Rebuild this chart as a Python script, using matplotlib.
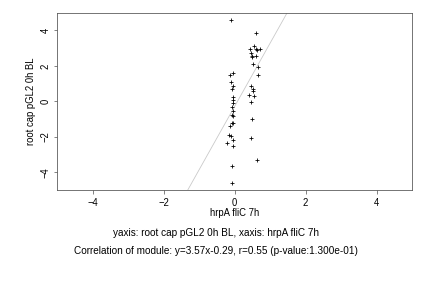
import numpy as np
import matplotlib
matplotlib.use('Agg')
import matplotlib.pyplot as plt

# points
x_vals = [-0.11, 0.60, 0.55, 0.43, 0.60, 0.63, 0.73, 0.45, 0.48, 0.50, 0.60, 0.51, 0.66, 0.65,
          -0.05, -0.13, -0.11, -0.05, -0.08, 0.45, 0.53, 0.51, 0.42, 0.55, 0.45, -0.05, -0.05,
          -0.05, -0.08, -0.05, -0.08, -0.05, 0.48, -0.05, -0.08, -0.13, -0.17, -0.11, -0.05,
          -0.22, -0.05, 0.45, 0.62, -0.08, -0.08]
y_vals = [4.56, 3.87, 3.10, 2.95, 2.93, 2.87, 2.93, 2.72, 2.54, 2.50, 2.54, 2.08, 1.93, 1.46,
          1.59, 1.46, 1.07, 0.85, 0.68, 0.85, 0.71, 0.58, 0.34, 0.28, -0.06, 0.24, 0.09,
          -0.08, -0.32, -0.55, -0.75, -0.81, -1.01, -1.20, -1.20, -1.41, -1.92, -1.97, -2.20,
          -2.37, -2.54, -2.07, -3.32, -3.66, -4.62]

slope = 3.57
intercept = -0.29
ticks = [-4, -2, 0, 2, 4]

plt.rcParams['font.family'] = ['Liberation Sans', 'DejaVu Sans']
fs = 9.5
fig = plt.figure(figsize=(6, 4), dpi=72)
ax = fig.add_axes([0.132, 0.340, 0.822, 0.616])

ax.scatter(x_vals, y_vals, marker='+', s=22, c='black', linewidths=0.8, zorder=3)

lx = np.array([-5.0, 5.0])
ax.plot(lx, slope * lx + intercept, color='#c8c8c8', lw=0.8, zorder=2)

ax.set_xlim(-5, 5)
ax.set_ylim(-5, 5)
ax.set_xticks(ticks)
ax.set_yticks(ticks)
ax.tick_params(labelsize=fs, length=3.5, width=0.6, color='#333333')
ax.tick_params(axis='x', pad=4)
ax.tick_params(axis='y', pad=3)
for lab in ax.get_yticklabels():
    lab.set_rotation(90)
    lab.set_va('center')
for s in ax.spines.values():
    s.set_color('#555555')
    s.set_linewidth(0.8)

ax.set_xlabel('hrpA fliC 7h', fontsize=fs, labelpad=0)
ax.set_ylabel('root cap pGL2 0h BL', fontsize=fs, labelpad=5)

fig.text(0.5, 0.192, 'yaxis: root cap pGL2 0h BL, xaxis: hrpA fliC 7h',
         ha='center', va='center', fontsize=10)
fig.text(0.5, 0.128, 'Correlation of module: y=3.57x-0.29, r=0.55 (p-value:1.300e-01)',
         ha='center', va='center', fontsize=10)

fig.savefig('out.png', dpi=72)
